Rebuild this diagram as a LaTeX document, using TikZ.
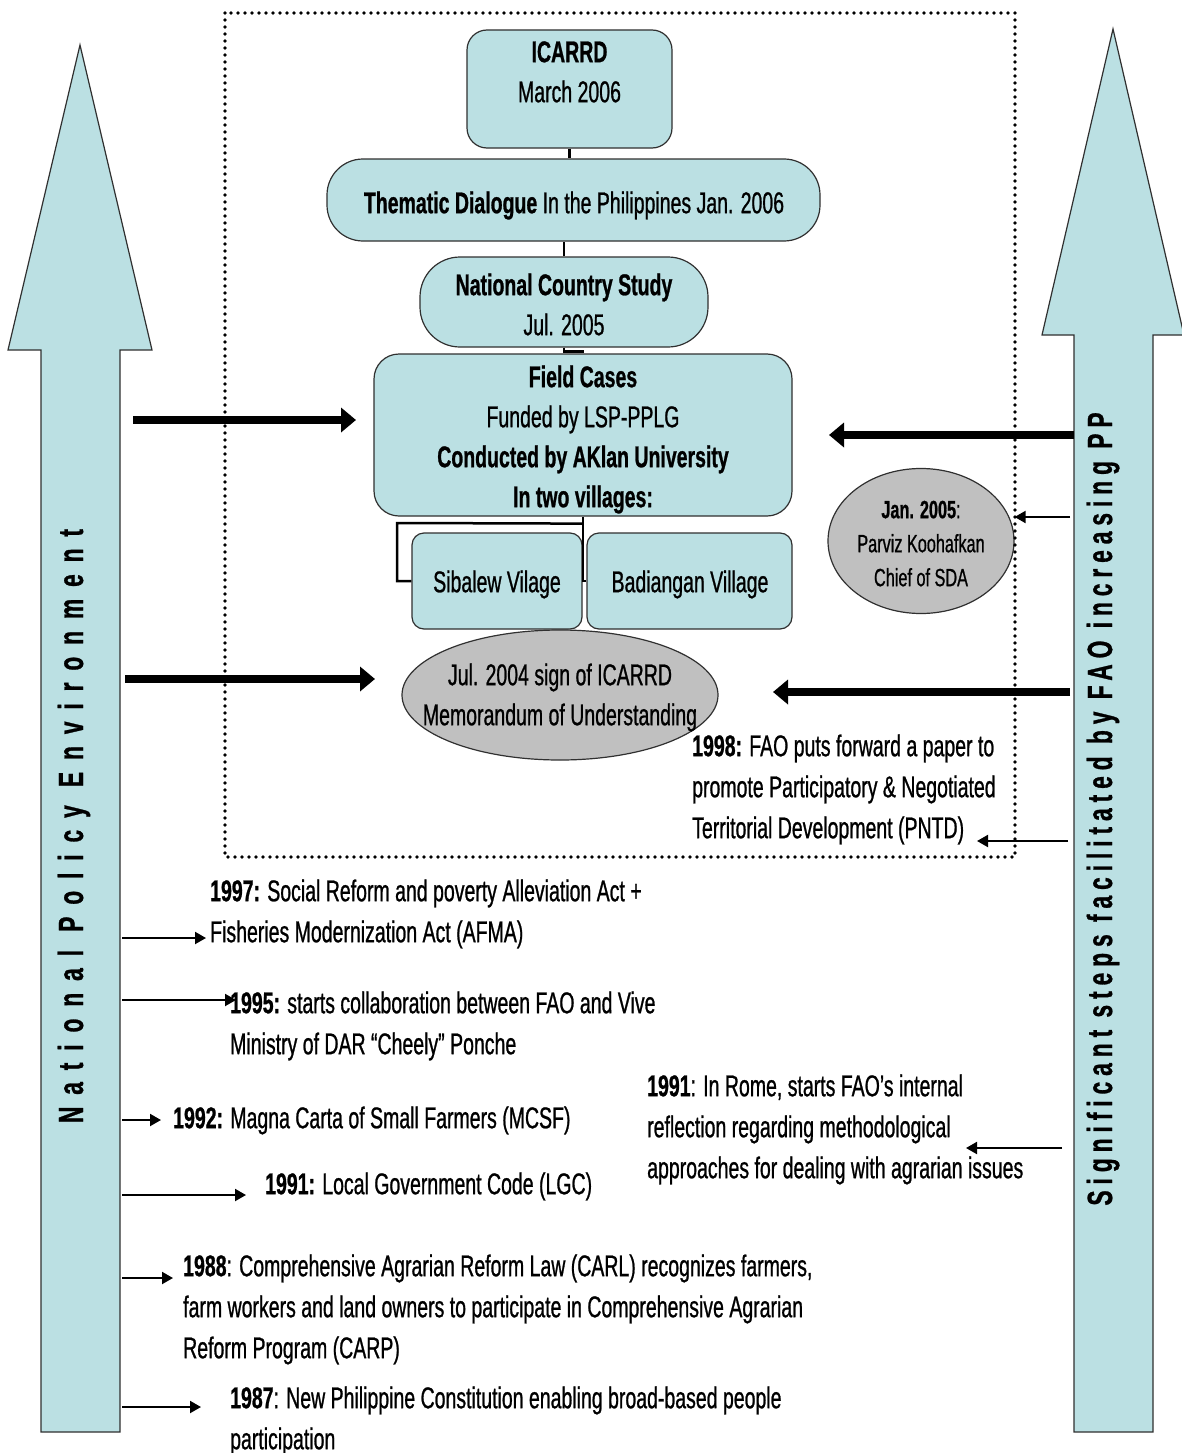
\documentclass[tikz,border=0pt]{standalone}
\usepackage{fontspec}
\setmainfont[FakeStretch=0.65, FakeBold=0.8]{Liberation Sans}
\newfontfamily\vleftfont[FakeStretch=0.65, FakeBold=0.8, LetterSpace=34]{Liberation Sans}
\newfontfamily\vrightfont[FakeStretch=0.65, FakeBold=0.8, LetterSpace=17]{Liberation Sans}
\usetikzlibrary{arrows.meta,shapes.geometric}
\definecolor{boxblue}{HTML}{BBE0E3}
\definecolor{ovalgray}{HTML}{C0C0C0}
\definecolor{edgecol}{HTML}{303030}
\begin{document}
\begin{tikzpicture}[x=1pt,y=-1pt,
  box/.style={draw=edgecol, line width=1.2pt, fill=boxblue, inner sep=0},
  oval/.style={ellipse, draw=edgecol, line width=1.2pt, fill=ovalgray, inner sep=0},
  bigarrow/.style={draw=edgecol, line width=1.2pt, fill=boxblue},
  boxtext/.style={anchor=north, inner sep=0, align=center, font=\fontsize{30}{40}\selectfont},
  bodytext/.style={anchor=north west, inner sep=0, align=left, font=\fontsize{30}{41}\selectfont},
  link/.style={line width=2.5pt, draw=black},
  thickarr/.style={line width=7.5pt, -{Triangle[length=15pt,width=24pt]}},
  thinarr/.style={line width=2pt, -{Triangle[length=11pt,width=12pt]}},
  frame/.style={line width=3.6pt, dash pattern=on 0pt off 7pt, line cap=round},
  vtitle/.style={rotate=90, anchor=base, inner sep=0}
]
\fill[white] (0,0) rectangle (1182,1453);
\useasboundingbox (0,0) rectangle (1182,1453);

% big side arrows
\draw[bigarrow] (80,45) -- (152,350) -- (120,350) -- (120,1432) -- (41,1432) -- (41,350) -- (8,350) -- cycle;
\draw[bigarrow] (1113,29) -- (1184,335) -- (1153,335) -- (1153,1432) -- (1074,1432) -- (1074,335) -- (1042,335) -- cycle;

\node[vtitle, font={\vleftfont\bfseries\fontsize{35}{40}\selectfont}] (lefttitle) at (83,826) {National Policy Environment};
\node[vtitle, font={\vrightfont\bfseries\fontsize{35}{40}\selectfont}] (righttitle) at (1112,809) {Significant steps facilitated by FAO increasing PP};

% boxes
\node[box, minimum width=205, minimum height=118, rounded corners=20pt] (icarrd) at (569.5,89) {};
\node[box, minimum width=493, minimum height=82, rounded corners=36pt] (thematic) at (573.5,200) {};
\node[box, minimum width=288, minimum height=90, rounded corners=40pt] (national) at (564,302) {};
\node[box, minimum width=418, minimum height=162, rounded corners=25pt] (field) at (583,435) {};
\node[box, minimum width=170, minimum height=96, rounded corners=12pt] (sibalew) at (497,581) {};
\node[box, minimum width=205, minimum height=96, rounded corners=12pt] (badiangan) at (689.5,581) {};

% connectors between boxes
\draw[link] (icarrd.south) -- (icarrd.south |- thematic.north);
\draw[link] (national.north) -- (national.north |- thematic.south);
\draw[link] (national.south) -- ++(0,4) -| (field.north);
\draw[link] (field.south) -- (field.south |- badiangan.west) -- (badiangan.west);
\draw[link] (field.south) ++(0,7) -- (397,523) |- (sibalew.west);

\node[oval, minimum width=316, minimum height=130] (mou) at (560,695) {};
\node[oval, minimum width=186, minimum height=145] (jan) at (921,541) {};

% box texts
\node[boxtext] (icarrdtext) at (569.5,36) {\rule{0pt}{26pt}\textbf{ICARRD}\\March 2006};
\node[boxtext] (thematictext) at (574,187) {\rule{0pt}{26pt}\textbf{Thematic Dialogue} In the Philippines Jan. 2006};
\node[boxtext] (nationaltext) at (564,269) {\rule{0pt}{26pt}\textbf{National Country Study}\\Jul. 2005};
\node[boxtext] (fieldtext) at (583,361) {\rule{0pt}{26pt}\textbf{Field Cases}\\Funded by LSP-PPLG\\\textbf{Conducted by AKlan University}\\\textbf{In two villages:}};
\node[boxtext] (sibalewtext) at (497,566) {\rule{0pt}{26pt}Sibalew Vilage};
\node[boxtext] (badiangantext) at (690,566) {\rule{0pt}{26pt}Badiangan Village};
\node[boxtext] (moutext) at (560,659) {\rule{0pt}{26pt}Jul. 2004 sign of ICARRD\\Memorandum of Understanding};
\node[boxtext, font=\fontsize{25}{34}\selectfont] (jantext) at (921,496) {\rule{0pt}{22pt}\textbf{Jan. 2005}:\\Parviz Koohafkan\\Chief of SDA};

% timeline texts
\node[bodytext] (t1998) at (692,730) {\rule{0pt}{26pt}\textbf{1998:} FAO puts forward a paper to\\promote Participatory \& Negotiated\\Territorial Development (PNTD)};
\node[bodytext] (t1997) at (210,875) {\rule{0pt}{26pt}\textbf{1997:} Social Reform and poverty Alleviation Act +\\Fisheries Modernization Act (AFMA)};
\node[bodytext] (t1995) at (230,987) {\rule{0pt}{26pt}\textbf{1995:} starts collaboration between FAO and Vive\\Ministry of DAR “Cheely” Ponche};
\node[bodytext] (t1991r) at (647,1070) {\rule{0pt}{26pt}\textbf{1991}: In Rome, starts FAO’s internal\\reflection regarding methodological\\approaches for dealing with agrarian issues};
\node[bodytext] (t1992) at (173,1102) {\rule{0pt}{26pt}\textbf{1992:} Magna Carta of Small Farmers (MCSF)};
\node[bodytext] (t1991) at (265,1168) {\rule{0pt}{26pt}\textbf{1991:} Local Government Code (LGC)};
\node[bodytext] (t1988) at (183,1250) {\rule{0pt}{26pt}\textbf{1988}: Comprehensive Agrarian Reform Law (CARL) recognizes farmers,\\farm workers and land owners to participate in Comprehensive Agrarian\\Reform Program (CARP)};
\node[bodytext] (t1987) at (230,1382) {\rule{0pt}{26pt}\textbf{1987}: New Philippine Constitution enabling broad-based people\\participation};

% arrow end points
\coordinate (la1) at (133,420);  \coordinate (la1e) at (356,420);
\coordinate (la2) at (125,679);  \coordinate (la2e) at (375,679);
\coordinate (ra1) at (1074,435); \coordinate (ra1e) at (829,435);
\coordinate (ra2) at (1070,692); \coordinate (ra2e) at (773,692);
\coordinate (rj) at (1070,517);
\coordinate (r98) at (1068,841); \coordinate (r98e) at (977,841);
\coordinate (r91) at (1062,1148); \coordinate (r91e) at (966,1148);
\coordinate (l97) at (122,938);  \coordinate (l97e) at (206,938);
\coordinate (l95) at (122,1000); \coordinate (l95e) at (236,1000);
\coordinate (l92) at (122,1120); \coordinate (l92e) at (161,1120);
\coordinate (l91) at (122,1195); \coordinate (l91e) at (246,1195);
\coordinate (l88) at (122,1278); \coordinate (l88e) at (173,1278);
\coordinate (l87) at (122,1407); \coordinate (l87e) at (201,1407);

\draw[thickarr] (la1) -- (la1e);
\draw[thickarr] (la2) -- (la2e);
\draw[thickarr] (ra1) -- (ra1e);
\draw[thickarr] (ra2) -- (ra2e);
\draw[thinarr] (rj) -- (rj -| jan.east);
\draw[thinarr] (r98) -- (r98e);
\draw[thinarr] (r91) -- (r91e);
\draw[thinarr] (l97) -- (l97e);
\draw[thinarr] (l95) -- (l95e);
\draw[thinarr] (l92) -- (l92e);
\draw[thinarr] (l91) -- (l91e);
\draw[thinarr] (l88) -- (l88e);
\draw[thinarr] (l87) -- (l87e);

% dotted frame
\draw[frame] (225,13) rectangle (1015,857);
\end{tikzpicture}
\end{document}
